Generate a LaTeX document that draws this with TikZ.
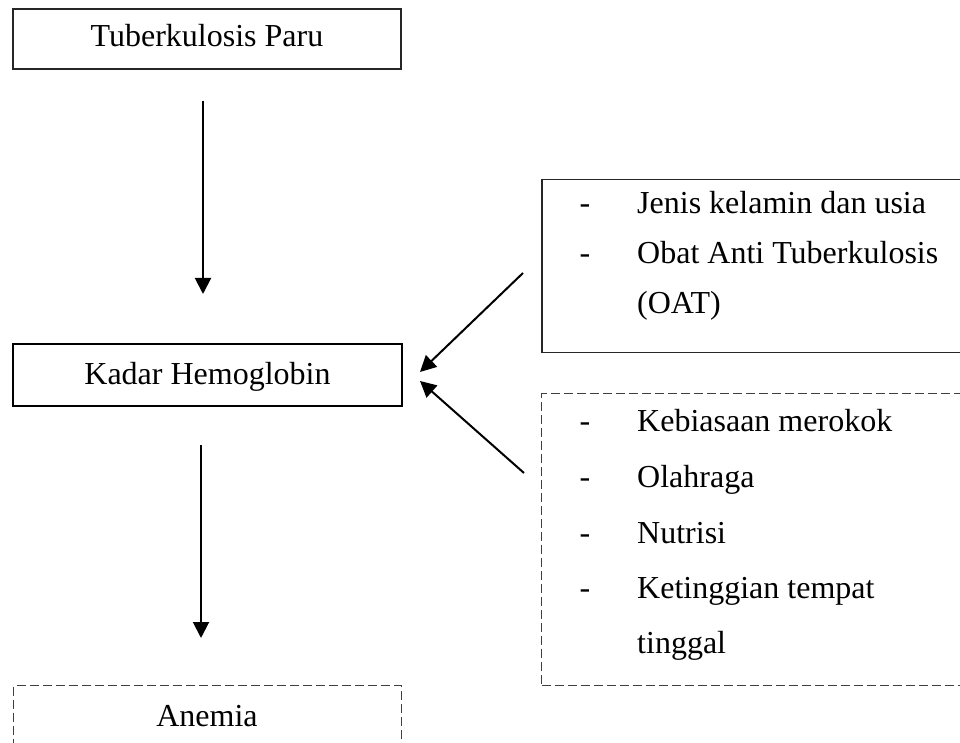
\documentclass[tikz,border=0pt]{standalone}
\usepackage{fontspec}
\setmainfont{Liberation Serif}
\usetikzlibrary{arrows.meta}
\begin{document}
\begin{tikzpicture}[x=1pt,y=1pt,
  txt/.style={font=\fontsize{32}{38}\selectfont, inner sep=0pt},
  boxsolid/.style={draw=black!85, line width=1.5pt, inner sep=0pt},
  boxthick/.style={draw=black, line width=2.4pt, inner sep=0pt},
  boxdash/.style={draw=black!75, line width=1.4pt, dash pattern=on 9pt off 4pt, inner sep=0pt},
  arr/.style={draw=black, line width=2pt, -{Triangle[length=16pt,width=16pt]}}]
\fill[white] (0,0) rectangle (960,742);
\useasboundingbox (0,0) rectangle (960,742);
\clip (0,0) rectangle (960,742);
% left column
\node[boxsolid, minimum width=388pt, minimum height=60pt] (tb) at (207,703) {};
\node[txt] (tbt) at (207,703) {\vphantom{Hg}Tuberkulosis Paru};
\node[boxthick, minimum width=389pt, minimum height=62pt] (kh) at (207.5,367) {};
\node[txt] (kht) at (207.5,365) {\vphantom{H}Kadar Hemoglobin};
\node[boxdash, anchor=north west, minimum width=388pt, minimum height=120pt] (an) at (13,57) {};
\node[txt, anchor=base] (ant) at (207,16) {Anemia};
% right boxes
\node[boxsolid, anchor=north west, minimum width=500pt, minimum height=173pt] (f1) at (541,563) {};
\node[boxdash, anchor=north west, minimum width=500pt, minimum height=292pt] (f2) at (541,349) {};
% texts box 1
\node[txt, anchor=base] (d11) at (585,528) {-};
\node[txt, anchor=base west] (t11) at (637,528) {Jenis kelamin dan usia};
\node[txt, anchor=base] (d12) at (585,478) {-};
\node[txt, anchor=base west] (t12) at (637,478) {Obat Anti Tuberkulosis};
\node[txt, anchor=base west] (t13) at (637,428) {(OAT)};
% texts box 2
\node[txt, anchor=base] (d21) at (585,310) {-};
\node[txt, anchor=base west] (t21) at (637,310) {Kebiasaan merokok};
\node[txt, anchor=base] (d22) at (585,255) {-};
\node[txt, anchor=base west] (t22) at (637,255) {Olahraga};
\node[txt, anchor=base] (d23) at (585,199) {-};
\node[txt, anchor=base west] (t23) at (637,199) {Nutrisi};
\node[txt, anchor=base] (d24) at (585,144) {-};
\node[txt, anchor=base west] (t24) at (637,144) {Ketinggian tempat};
\node[txt, anchor=base west] (t25) at (637,89) {tinggal};
% connectors
\coordinate (v1s) at (203,641);
\coordinate (v1e) at (203,448);
\coordinate (v2s) at (201,297);
\coordinate (v2e) at (201,104);
\coordinate (a1s) at (523,469);
\coordinate (a1e) at (420,370);
\coordinate (a2s) at (524,269);
\coordinate (a2e) at (420,361);
\draw[arr] (v1s) -- (v1e);
\draw[arr] (v2s) -- (v2e);
\draw[arr] (a1s) -- (a1e);
\draw[arr] (a2s) -- (a2e);
\end{tikzpicture}
\end{document}
